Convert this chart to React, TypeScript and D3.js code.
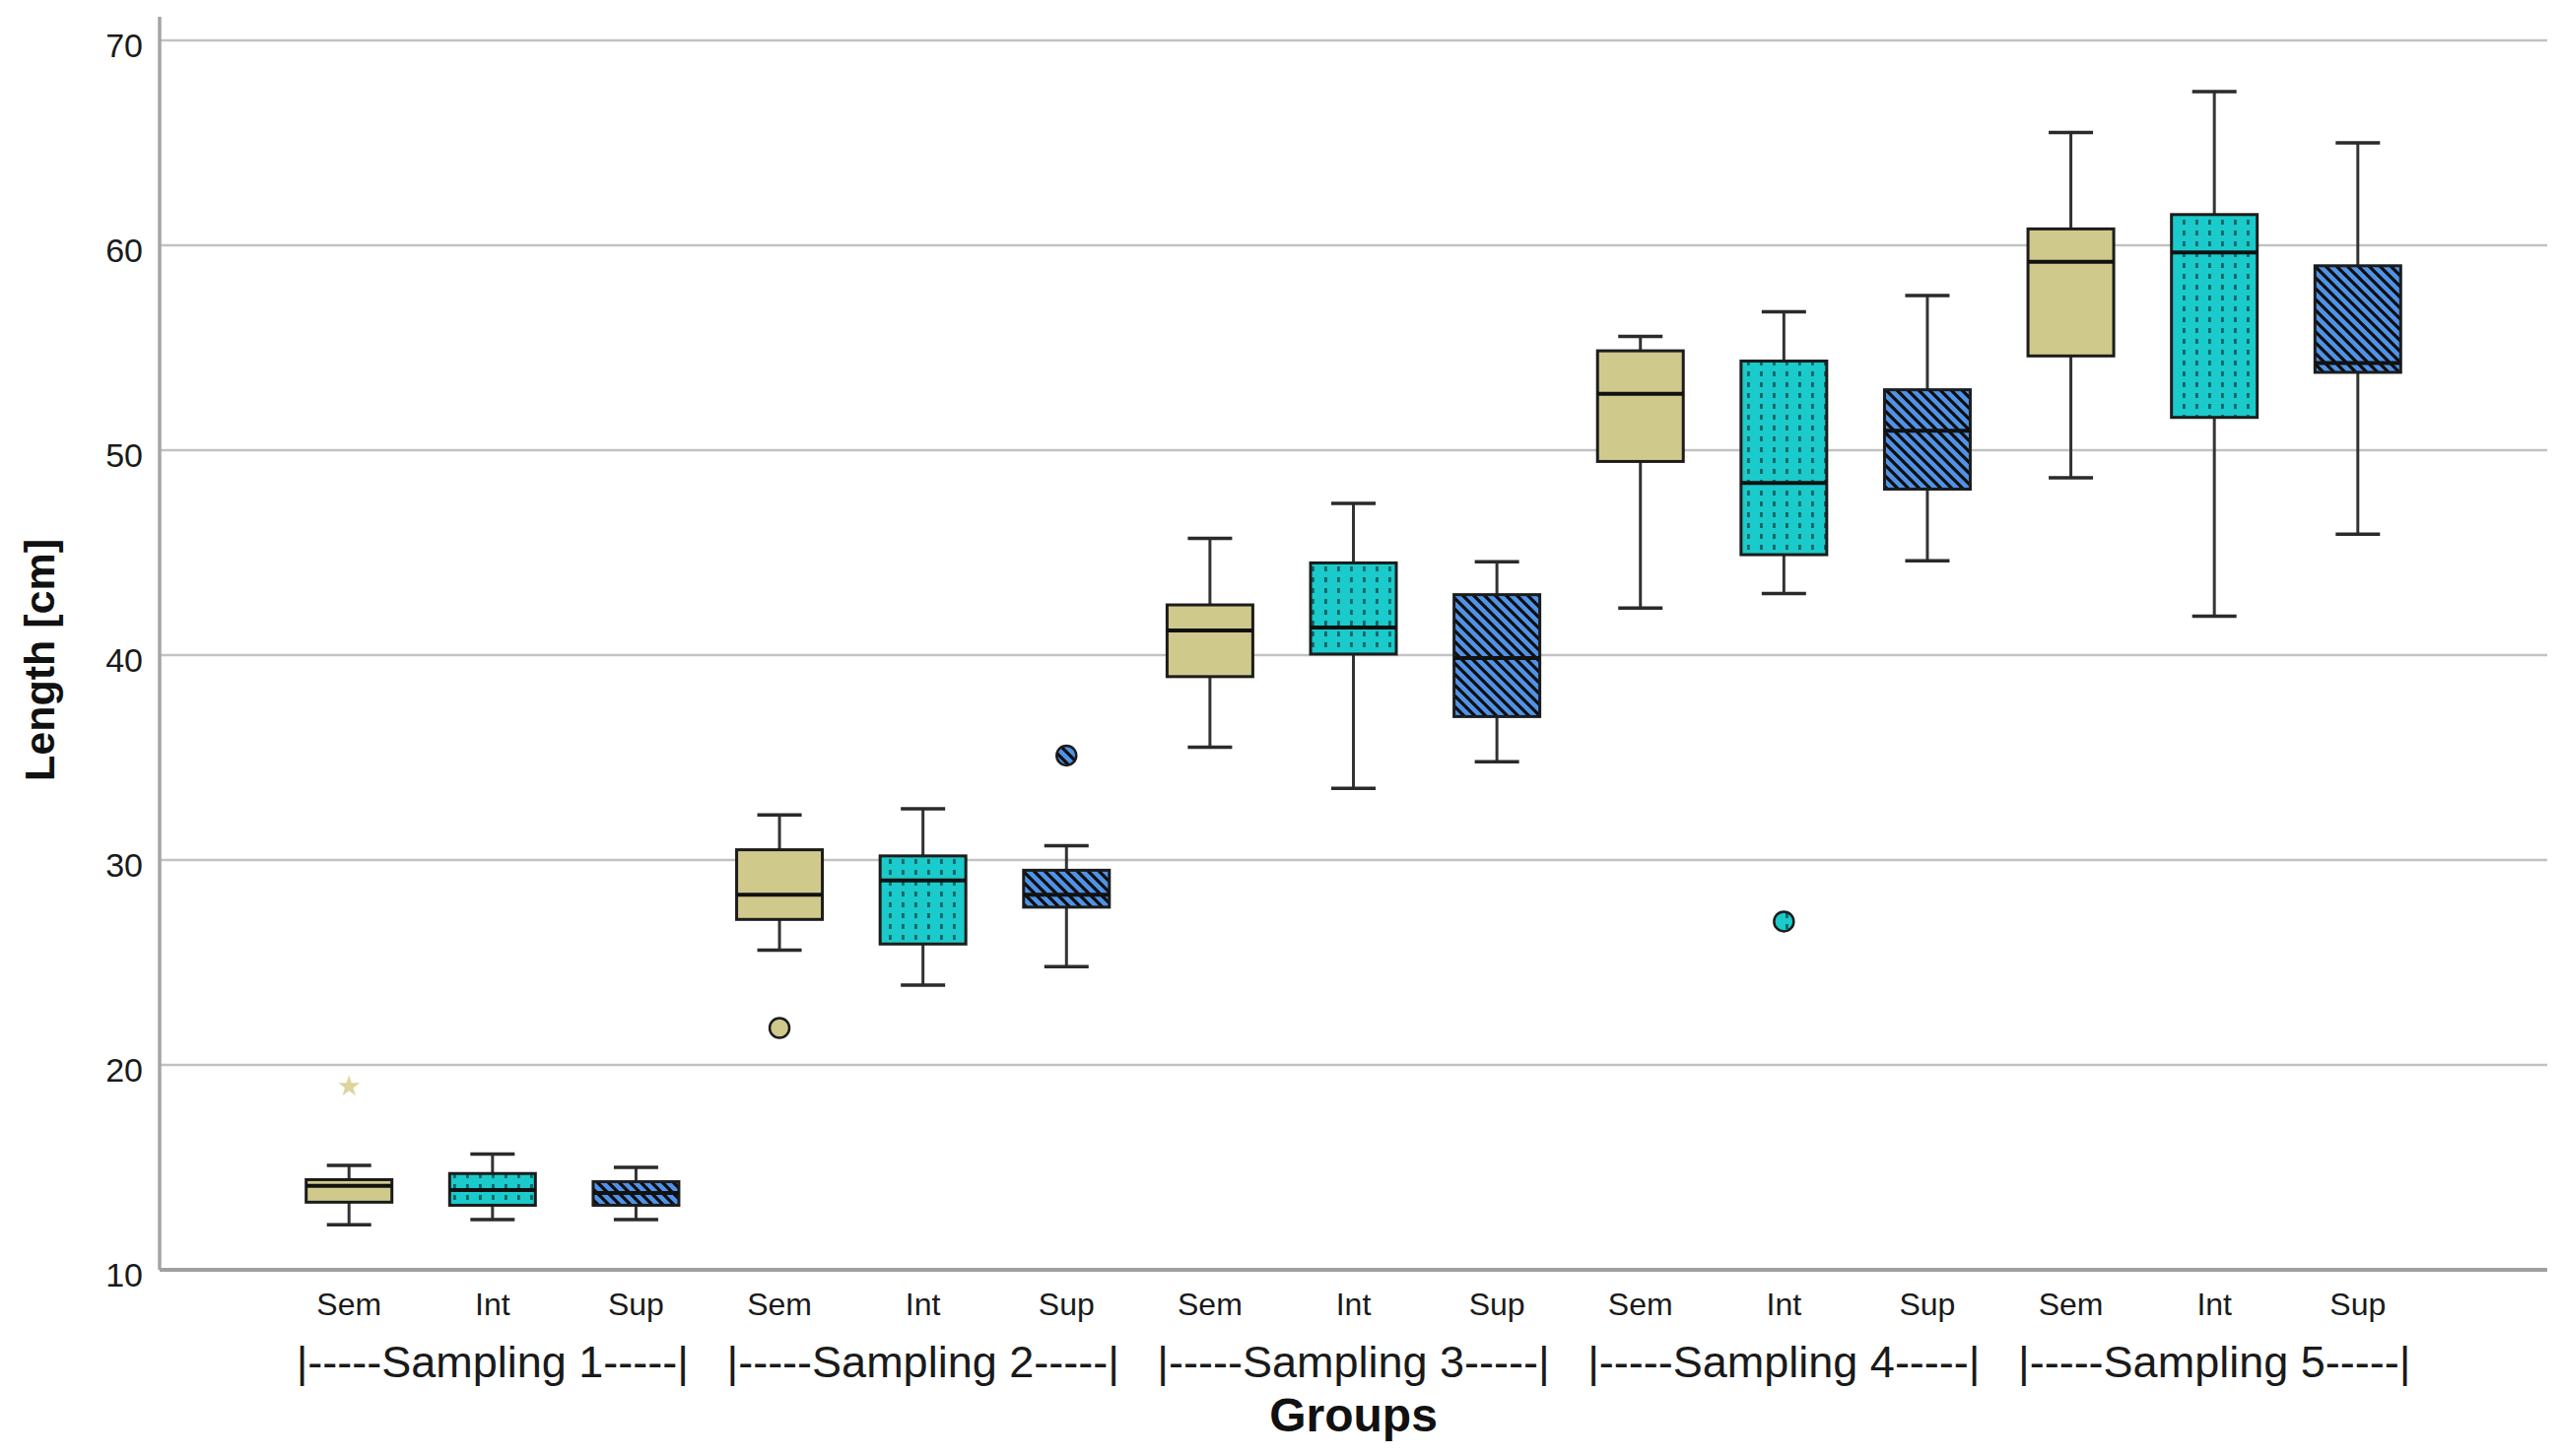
import { useEffect, useRef } from 'react';
import * as d3 from 'd3';

const samplings = ['Sampling 1', 'Sampling 2', 'Sampling 3', 'Sampling 4', 'Sampling 5'];
const groups = ['Sem', 'Int', 'Sup'];

// box statistics, order: S1 Sem/Int/Sup, S2 Sem/Int/Sup, ...
const whiskerHigh = [15.1, 15.65, 15.0, 32.2, 32.5, 30.7, 45.7, 47.4, 44.55, 55.55, 56.75, 57.55, 65.5, 67.5, 65.0];
const q3 = [14.4, 14.7, 14.3, 30.5, 30.2, 29.5, 42.45, 44.5, 42.95, 54.85, 54.35, 52.95, 60.8, 61.5, 59.0];
const medians = [14.1, 13.9, 13.75, 28.3, 29.0, 28.3, 41.2, 41.35, 39.85, 52.75, 48.4, 50.95, 59.2, 59.65, 54.25];
const q1 = [13.3, 13.15, 13.15, 27.1, 25.9, 27.7, 38.95, 40.05, 37.0, 49.45, 44.9, 48.1, 54.6, 51.6, 53.8];
const whiskerLow = [12.2, 12.45, 12.45, 25.6, 23.9, 24.8, 35.5, 33.5, 34.8, 42.3, 43.0, 44.6, 48.65, 41.9, 45.9];

// outliers: [box index, value]
const outliers: [number, number][] = [[3, 21.8], [5, 35.1], [10, 27.0]];
const extremes: [number, number][] = [[0, 18.95]];

const yTicks = [10, 20, 30, 40, 50, 60, 70];

const W = 2601;
const H = 1478;
const FONT = '"Liberation Sans", Arial, Helvetica, sans-serif';

export default function App() {
  const svgRef = useRef<SVGSVGElement>(null);

  useEffect(() => {
    document.body.style.margin = '0';
    if (!svgRef.current) return;
    const svg = d3.select(svgRef.current);
    svg.selectAll('*').remove();

    const left = 162;
    const right = 2585;
    const ids = d3.range(samplings.length * groups.length);

    const x = d3.scalePoint<number>().domain(ids).range([left, right]).padding(1.32);
    const y = d3.scaleLinear().domain([10, 70]).range([1289, 41]);

    const fillOf = (i: number) => ['#cfc98c', 'url(#dots)', 'url(#stripes)'][i % 3];

    // patterns
    const defs = svg.append('defs');
    const dots = defs
      .append('pattern')
      .attr('id', 'dots')
      .attr('patternUnits', 'userSpaceOnUse')
      .attr('width', 13)
      .attr('height', 11);
    dots.append('rect').attr('width', 13).attr('height', 11).attr('fill', '#1bcaca');
    dots.append('rect').attr('x', 5).attr('y', 3).attr('width', 2.8).attr('height', 5).attr('fill', '#0b6466');

    const stripes = defs
      .append('pattern')
      .attr('id', 'stripes')
      .attr('patternUnits', 'userSpaceOnUse')
      .attr('width', 11)
      .attr('height', 11);
    stripes.append('rect').attr('width', 11).attr('height', 11).attr('fill', '#4f92e6');
    stripes
      .append('path')
      .attr('d', 'M-3,-3 L14,14 M-3,8 L3,14 M8,-3 L14,3')
      .attr('stroke', '#0d0d0d')
      .attr('stroke-width', 3.2);

    // gridlines
    svg
      .append('g')
      .selectAll('line')
      .data(yTicks.filter((t) => t > 10))
      .enter()
      .append('line')
      .attr('x1', left)
      .attr('x2', right)
      .attr('y1', (d) => y(d))
      .attr('y2', (d) => y(d))
      .attr('stroke', '#c2c2c2')
      .attr('stroke-width', 2.5);

    // axes lines
    svg
      .append('line')
      .attr('x1', left)
      .attr('x2', left)
      .attr('y1', 17)
      .attr('y2', y(10))
      .attr('stroke', '#a4a4a4')
      .attr('stroke-width', 3.5);
    svg
      .append('line')
      .attr('x1', left)
      .attr('x2', right)
      .attr('y1', y(10))
      .attr('y2', y(10))
      .attr('stroke', '#a0a0a0')
      .attr('stroke-width', 4);

    // y tick labels
    svg
      .append('g')
      .selectAll('text')
      .data(yTicks)
      .enter()
      .append('text')
      .attr('x', 145)
      .attr('y', (d) => y(d) + 17)
      .attr('text-anchor', 'end')
      .style('font-family', FONT)
      .style('font-size', '34px')
      .attr('fill', '#1a1a1a')
      .text((d) => d);

    const boxW = 87;
    const capW = 45;
    const boxes = svg.append('g');

    ids.forEach((i) => {
      const cx = x(i)!;
      const g = boxes.append('g');
      // whiskers
      g.append('line')
        .attr('x1', cx)
        .attr('x2', cx)
        .attr('y1', y(whiskerHigh[i]))
        .attr('y2', y(whiskerLow[i]))
        .attr('stroke', '#333')
        .attr('stroke-width', 3);
      [whiskerHigh[i], whiskerLow[i]].forEach((v) => {
        g.append('line')
          .attr('x1', cx - capW / 2)
          .attr('x2', cx + capW / 2)
          .attr('y1', y(v))
          .attr('y2', y(v))
          .attr('stroke', '#2a2a2a')
          .attr('stroke-width', 3.5);
      });
      // box
      g.append('rect')
        .attr('x', cx - boxW / 2)
        .attr('y', y(q3[i]))
        .attr('width', boxW)
        .attr('height', y(q1[i]) - y(q3[i]))
        .attr('fill', fillOf(i))
        .attr('stroke', '#1c1c1c')
        .attr('stroke-width', 3);
      g.append('line')
        .attr('x1', cx - boxW / 2)
        .attr('x2', cx + boxW / 2)
        .attr('y1', y(medians[i]))
        .attr('y2', y(medians[i]))
        .attr('stroke', '#111')
        .attr('stroke-width', 4);
    });

    // outliers
    svg
      .append('g')
      .selectAll('circle')
      .data(outliers)
      .enter()
      .append('circle')
      .attr('cx', (d) => x(d[0])!)
      .attr('cy', (d) => y(d[1]))
      .attr('r', 10)
      .attr('fill', (d) => fillOf(d[0]))
      .attr('stroke', '#1c1c1c')
      .attr('stroke-width', 2.5);

    svg
      .append('g')
      .selectAll('path')
      .data(extremes)
      .enter()
      .append('path')
      .attr('transform', (d) => `translate(${x(d[0])},${y(d[1])})`)
      .attr('d', d3.symbol().type(d3.symbolStar).size(150)())
      .attr('fill', '#dcd59c');

    // category labels
    svg
      .append('g')
      .selectAll('text')
      .data(ids)
      .enter()
      .append('text')
      .attr('x', (d) => x(d)!)
      .attr('y', 1335)
      .attr('text-anchor', 'middle')
      .style('font-family', FONT)
      .style('font-size', '32px')
      .attr('fill', '#1a1a1a')
      .text((d) => groups[d % 3]);

    svg
      .append('g')
      .selectAll('text')
      .data(samplings)
      .enter()
      .append('text')
      .attr('x', (_, k) => x(k * 3 + 1)!)
      .attr('y', 1398)
      .attr('text-anchor', 'middle')
      .style('font-family', FONT)
      .style('font-size', '45px')
      .attr('fill', '#1a1a1a')
      .text((d) => `|-----${d}-----|`);

    svg
      .append('text')
      .attr('x', x(7)!)
      .attr('y', 1453)
      .attr('text-anchor', 'middle')
      .style('font-family', FONT)
      .style('font-size', '48px')
      .style('font-weight', 'bold')
      .attr('fill', '#111')
      .text('Groups');

    svg
      .append('text')
      .attr('transform', `translate(55,670) rotate(-90)`)
      .attr('text-anchor', 'middle')
      .style('font-family', FONT)
      .style('font-size', '43px')
      .style('font-weight', 'bold')
      .attr('fill', '#111')
      .text('Length [cm]');
  }, []);

  return <svg ref={svgRef} width={W} height={H} style={{ display: 'block', background: '#fff' }} />;
}
